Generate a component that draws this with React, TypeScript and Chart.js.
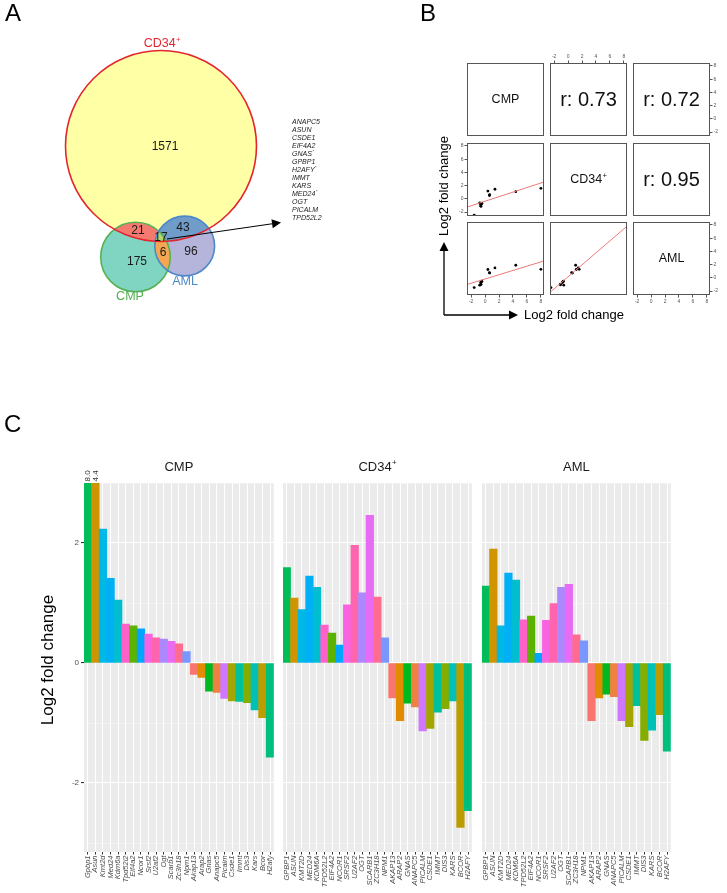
import React, { useEffect, useRef } from 'react';
import { Chart, registerables } from 'chart.js';

Chart.register(...registerables);

const FONT = '"Liberation Sans", Arial, Helvetica, sans-serif';

/* ---------------- Panel C data ---------------- */
const GENES_HUMAN = ['GPBP1', 'ASUN', 'KMT2D', 'MED24', 'KDM6A', 'TPD52L2', 'EIF4A2', 'NCOR1', 'SRSF2', 'U2AF2', 'OGT', 'SCARB1', 'ZC3H18', 'NPM1', 'AKAP13', 'ARAP2', 'GNAS', 'ANAPC5', 'PICALM', 'CSDE1', 'IMMT', 'DIS3', 'KARS', 'BCOR', 'H2AFY'];
const GENES_MOUSE = ['Gpbp1', 'Asun', 'Kmt2d', 'Med24', 'Kdm6a', 'Tpd52l2', 'Eif4a2', 'Ncor1', 'Srsf2', 'U2af2', 'Ogt', 'Scarb1', 'Zc3h18', 'Npm1', 'Akap13', 'Arap2', 'Gnas', 'Anapc5', 'Picalm', 'Csde1', 'Immt', 'Dis3', 'Kars', 'Bcor', 'H2afy'];
const CMP_LFC = [8.0, 4.4, 2.23, 1.41, 1.05, 0.65, 0.62, 0.57, 0.48, 0.42, 0.40, 0.36, 0.32, 0.19, -0.19, -0.24, -0.47, -0.49, -0.59, -0.63, -0.64, -0.66, -0.78, -0.91, -1.57];
const CD34_LFC = [1.59, 1.08, 0.89, 1.45, 1.26, 0.63, 0.50, 0.30, 0.97, 1.96, 1.17, 2.46, 1.10, 0.42, -0.58, -0.96, -0.67, -0.73, -1.13, -1.09, -0.82, -0.76, -0.63, -2.74, -2.46];
const AML_LFC = [1.28, 1.90, 0.62, 1.50, 1.38, 0.72, 0.78, 0.16, 0.71, 0.99, 1.26, 1.31, 0.47, 0.37, -0.96, -0.58, -0.52, -0.56, -0.96, -1.06, -0.71, -1.29, -1.12, -0.86, -1.47];
const FACET_NAMES = ['CMP', 'CD34+', 'AML'];
const LFC_TICKS = [-2, 0, 2];
const LFC_GRID = [-3, -2, -1, 0, 1, 2, 3];
const LFC_MIN = -3.15;
const LFC_MAX = 3.0;
const LFC_TITLE = 'Log2 fold change';

/* ---------------- Panel A data ---------------- */
const VENN_SETS = ['CD34+', 'CMP', 'AML'];
const ONLY_CD34 = 1571;
const ONLY_CMP = 175;
const ONLY_AML = 96;
const CD34_CMP = 21;
const CD34_AML = 43;
const CMP_AML = 6;
const ALL_THREE = 17;
const OVERLAP_GENES = ['ANAPC5', 'ASUN', 'CSDE1', 'EIF4A2', 'GNAS*', 'GPBP1', 'H2AFY*', 'IMMT', 'KARS', 'MED24*', 'OGT', 'PICALM', 'TPD52L2'];

/* ---------------- Panel B data ---------------- */
const PAIR_NAMES = ['CMP', 'CD34+', 'AML'];
const PAIR_R = ['0.73', '0.72', '0.95']; // (CMP,CD34) (CMP,AML) (CD34,AML)
const B_CMP = [-0.49, 4.4, -0.63, 0.62, -0.47, 8.0, -1.57, -0.64, -0.78, 1.41, 0.40, -0.59, 0.65];
const B_CD34 = [-0.73, 1.08, -1.09, 0.50, -0.67, 1.59, -2.46, -0.82, -0.63, 1.45, 1.17, -1.13, 0.63];
const B_AML = [-0.56, 1.90, -1.06, 0.78, -0.52, 1.28, -1.47, -0.71, -1.12, 1.50, 1.26, -0.96, 0.72];
const B_TICKS = [-2, 0, 2, 4, 6, 8];
const B_MIN = -2.6;
const B_MAX = 8.45;

/* ---------------- helpers ---------------- */
function hcl(h: number, c = 100, l = 65): string {
  const hr = (h * Math.PI) / 180;
  const U = c * Math.cos(hr);
  const V = c * Math.sin(hr);
  const Y = l > 8 ? Math.pow((l + 16) / 116, 3) : l / 903.3;
  const Xn = 0.95047, Yn = 1.0, Zn = 1.08883;
  const d = Xn + 15 * Yn + 3 * Zn;
  const un = (4 * Xn) / d, vn = (9 * Yn) / d;
  const u = U / (13 * l) + un;
  const v = V / (13 * l) + vn;
  const X = (Y * 9 * u) / (4 * v);
  const Z = (Y * (12 - 3 * u - 20 * v)) / (4 * v);
  const lin = [
    3.240479 * X - 1.53715 * Y - 0.498535 * Z,
    -0.969256 * X + 1.875992 * Y + 0.041556 * Z,
    0.055648 * X - 0.204043 * Y + 1.057311 * Z,
  ];
  const out = lin.map((t) => {
    const g = t <= 0.0031308 ? 12.92 * t : 1.055 * Math.pow(t, 1 / 2.4) - 0.055;
    return Math.round(Math.max(0, Math.min(1, g)) * 255);
  });
  return `rgb(${out[0]},${out[1]},${out[2]})`;
}

const GENE_LEVELS = [...GENES_HUMAN].sort();
function geneColor(label: string): string {
  const i = GENE_LEVELS.indexOf(label.toUpperCase());
  return hcl(15 + (360 * i) / GENE_LEVELS.length);
}

function drawSupText(ctx: any, text: string, cx: number, cy: number, size: number, color: string, align = 'center', style = '') {
  let base = text, sup = '';
  if (text.endsWith('+') || text.endsWith('*')) {
    base = text.slice(0, -1);
    sup = text.slice(-1);
  }
  ctx.save();
  ctx.fillStyle = color;
  ctx.textBaseline = 'middle';
  ctx.textAlign = 'left';
  ctx.font = `${style}${size}px ${FONT}`;
  const wb = ctx.measureText(base).width;
  const ss = size * 0.62;
  ctx.font = `${style}${ss}px ${FONT}`;
  const ws = sup ? ctx.measureText(sup).width : 0;
  const x0 = align === 'center' ? cx - (wb + ws) / 2 : cx;
  ctx.font = `${style}${size}px ${FONT}`;
  ctx.fillText(base, x0, cy);
  if (sup) {
    ctx.font = `${style}${ss}px ${FONT}`;
    ctx.fillText(sup, x0 + wb + 0.3, cy - size * 0.33);
  }
  ctx.restore();
}

function drawArrow(ctx: any, x1: number, y1: number, x2: number, y2: number, head: number, half: number) {
  const a = Math.atan2(y2 - y1, x2 - x1);
  const bx = x2 - head * Math.cos(a);
  const by = y2 - head * Math.sin(a);
  ctx.beginPath();
  ctx.moveTo(x1, y1);
  ctx.lineTo(bx, by);
  ctx.stroke();
  ctx.beginPath();
  ctx.moveTo(x2, y2);
  ctx.lineTo(bx + half * Math.sin(a), by - half * Math.cos(a));
  ctx.lineTo(bx - half * Math.sin(a), by + half * Math.cos(a));
  ctx.closePath();
  ctx.fill();
}

function linFit(xs: number[], ys: number[]) {
  const n = xs.length;
  const mx = xs.reduce((s, v) => s + v, 0) / n;
  const my = ys.reduce((s, v) => s + v, 0) / n;
  let sxy = 0, sxx = 0;
  for (let i = 0; i < n; i++) {
    sxy += (xs[i] - mx) * (ys[i] - my);
    sxx += (xs[i] - mx) * (xs[i] - mx);
  }
  const b = sxy / sxx;
  return { a: my - b * mx, b };
}

/* ---------------- generic canvas ---------------- */
function ChartBox({ left, top, width, height, make }: any) {
  const ref = useRef<HTMLCanvasElement>(null);
  useEffect(() => {
    const chart = new Chart(ref.current as HTMLCanvasElement, make());
    return () => chart.destroy();
  }, []);
  return (
    <canvas
      ref={ref}
      width={width}
      height={height}
      style={{ position: 'absolute', left, top, width, height }}
    />
  );
}

/* ---------------- Panel C ---------------- */
const C_TOP = 400;
const C_HEIGHT = 493;
const C_AREA_TOP = 483;
const C_XAXIS_H = 41;
const FACET_BOXES = [
  { left: 0, width: 280, axis: 84 },
  { left: 283, width: 195, axis: 0 },
  { left: 482, width: 195, axis: 0 },
];

function facetConfig(idx: number) {
  const labels = idx === 0 ? GENES_MOUSE : GENES_HUMAN;
  const values = [CMP_LFC, CD34_LFC, AML_LFC][idx];
  const withAxis = idx === 0;
  const box = FACET_BOXES[idx];

  const bgPlugin = {
    id: 'panelBg',
    beforeDraw(chart: any) {
      const { ctx, chartArea: a } = chart;
      ctx.save();
      ctx.fillStyle = '#EBEBEB';
      ctx.fillRect(a.left, a.top, a.right - a.left, a.bottom - a.top);
      ctx.restore();
    },
  };
  const textPlugin = {
    id: 'facetText',
    afterDraw(chart: any) {
      const { ctx, chartArea: a } = chart;
      drawSupText(ctx, FACET_NAMES[idx], (a.left + a.right) / 2, 67, 13, '#1A1A1A');
      const meta = chart.getDatasetMeta(0);
      ctx.save();
      ctx.fillStyle = '#333333';
      ctx.font = `8px ${FONT}`;
      ctx.textBaseline = 'middle';
      ctx.textAlign = 'left';
      values.forEach((v: number, i: number) => {
        if (v > LFC_MAX) {
          const el = meta.data[i];
          ctx.save();
          ctx.translate(el.x, a.top - 1.5);
          ctx.rotate(-Math.PI / 2);
          ctx.fillText(v.toFixed(1), 0, 0);
          ctx.restore();
        }
      });
      ctx.restore();
      if (withAxis) {
        ctx.save();
        ctx.fillStyle = '#000000';
        ctx.font = `17px ${FONT}`;
        ctx.textAlign = 'center';
        ctx.textBaseline = 'middle';
        ctx.translate(48, 660 - C_TOP);
        ctx.rotate(-Math.PI / 2);
        ctx.fillText(LFC_TITLE, 0, 0);
        ctx.restore();
        ctx.save();
        ctx.fillStyle = '#000000';
        ctx.font = `24px ${FONT}`;
        ctx.textBaseline = 'alphabetic';
        ctx.fillText('C', 4, 432 - C_TOP);
        ctx.restore();
      }
    },
  };

  return {
    type: 'bar',
    data: {
      labels,
      datasets: [
        {
          data: values,
          backgroundColor: labels.map(geneColor),
          borderWidth: 0,
          barPercentage: 1,
          categoryPercentage: 1,
        },
      ],
    },
    options: {
      responsive: false,
      animation: false,
      events: [],
      layout: { padding: { top: C_AREA_TOP - C_TOP, left: 0, right: 0, bottom: 0 } },
      plugins: { legend: { display: false }, tooltip: { enabled: false }, title: { display: false } },
      scales: {
        x: {
          type: 'category',
          offset: true,
          grid: { offset: false, color: '#FFFFFF', lineWidth: 1, drawTicks: true, tickLength: 2.5, tickColor: '#333333' },
          border: { display: false },
          ticks: {
            autoSkip: false,
            minRotation: 90,
            maxRotation: 90,
            padding: 1,
            color: '#4D4D4D',
            font: { family: FONT, size: 7.5, style: 'italic' },
          },
          afterFit: (s: any) => {
            s.height = C_XAXIS_H;
          },
        },
        y: {
          min: LFC_MIN,
          max: LFC_MAX,
          afterBuildTicks: (s: any) => {
            s.ticks = LFC_GRID.map((v) => ({ value: v }));
          },
          ticks: {
            display: withAxis,
            padding: 2,
            color: '#4D4D4D',
            font: { family: FONT, size: 8 },
            callback: (v: any) => (LFC_TICKS.includes(Number(v)) ? String(v) : ''),
          },
          grid: {
            color: (ctx: any) => (ctx.tick && LFC_TICKS.includes(ctx.tick.value) ? '#FFFFFF' : '#F7F7F7'),
            lineWidth: (ctx: any) => (ctx.tick && LFC_TICKS.includes(ctx.tick.value) ? 1.1 : 0.6),
            drawTicks: withAxis,
            tickLength: 3,
            tickColor: (ctx: any) => (ctx.tick && LFC_TICKS.includes(ctx.tick.value) ? '#333333' : 'rgba(0,0,0,0)'),
          },
          border: { display: false },
          afterFit: (s: any) => {
            s.width = box.axis;
          },
        },
      },
    },
    plugins: [bgPlugin, textPlugin],
  };
}

/* ---------------- Panel A (Venn) ---------------- */
const VENN_W = 370;
const VENN_H = 310;
const VENN_R_MAX = 95.5;
const VENN_CENTERS = [
  { x: 161, y: 146 },
  { x: 135.5, y: 257 },
  { x: 184.7, y: 246 },
];
const VENN_NUM_POS = [
  { x: 165, y: 147 },
  { x: 137, y: 262 },
  { x: 191, y: 252 },
  { x: 138, y: 231 },
  { x: 183, y: 228 },
  { x: 163, y: 253 },
  { x: 161, y: 238 },
];
const VENN_NAME_POS = [
  { x: 162, y: 44 },
  { x: 130, y: 297 },
  { x: 185, y: 282 },
];

function vennConfig() {
  const totals = [
    ONLY_CD34 + CD34_CMP + CD34_AML + ALL_THREE,
    ONLY_CMP + CD34_CMP + CMP_AML + ALL_THREE,
    ONLY_AML + CD34_AML + CMP_AML + ALL_THREE,
  ];
  const maxT = Math.max(...totals);
  const radii = totals.map((t) => VENN_R_MAX * Math.sqrt(t / maxT));
  const counts = [ONLY_CD34, ONLY_CMP, ONLY_AML, CD34_CMP, CD34_AML, CMP_AML, ALL_THREE];
  const strokeCols = ['#E3262E', '#55B254', '#4E88C8'];
  const nameCols = ['#E3262E', '#4FAE4F', '#4E88C8'];

  const plugin = {
    id: 'venn',
    afterDraw(chart: any) {
      const { ctx } = chart;
      const sx = (v: number) => chart.scales.x.getPixelForValue(v);
      const sy = (v: number) => chart.scales.y.getPixelForValue(v);
      const k = sx(1) - sx(0);
      const circ = (i: number) => {
        ctx.beginPath();
        ctx.arc(sx(VENN_CENTERS[i].x), sy(VENN_CENTERS[i].y), radii[i] * k, 0, Math.PI * 2);
      };
      ctx.save();
      ctx.fillStyle = '#FFFFA6';
      circ(0); ctx.fill();
      ctx.fillStyle = '#80D4C2';
      circ(1); ctx.fill();
      ctx.fillStyle = '#B5B4DB';
      circ(2); ctx.fill();
      ctx.save();
      circ(0); ctx.clip();
      ctx.fillStyle = '#F47A70';
      circ(1); ctx.fill();
      ctx.fillStyle = '#6F9CC8';
      circ(2); ctx.fill();
      ctx.restore();
      ctx.save();
      circ(1); ctx.clip();
      ctx.fillStyle = '#F4A650';
      circ(2); ctx.fill();
      ctx.restore();
      ctx.save();
      circ(0); ctx.clip();
      circ(1); ctx.clip();
      ctx.fillStyle = '#B6D66C';
      circ(2); ctx.fill();
      ctx.restore();
      ctx.lineWidth = 1.6;
      [1, 2, 0].forEach((i) => {
        ctx.strokeStyle = strokeCols[i];
        circ(i); ctx.stroke();
      });
      ctx.restore();

      ctx.save();
      ctx.fillStyle = '#1A1A1A';
      ctx.font = `12px ${FONT}`;
      ctx.textAlign = 'center';
      ctx.textBaseline = 'middle';
      counts.forEach((c, i) => ctx.fillText(String(c), sx(VENN_NUM_POS[i].x), sy(VENN_NUM_POS[i].y)));
      ctx.restore();
      VENN_SETS.forEach((n, i) => drawSupText(ctx, n, sx(VENN_NAME_POS[i].x), sy(VENN_NAME_POS[i].y), 12.5, nameCols[i]));

      ctx.save();
      ctx.strokeStyle = '#000000';
      ctx.fillStyle = '#000000';
      ctx.lineWidth = 1;
      drawArrow(ctx, sx(167), sy(239), sx(281), sy(222.5), 9, 4.5);
      ctx.restore();

      OVERLAP_GENES.forEach((g, i) => {
        drawSupText(ctx, g, sx(292), sy(122.5 + i * 8), 7, '#222222', 'left', 'italic ');
      });

      ctx.save();
      ctx.fillStyle = '#000000';
      ctx.font = `24px ${FONT}`;
      ctx.textBaseline = 'alphabetic';
      ctx.fillText('A', 5, 21);
      ctx.restore();
    },
  };

  return {
    type: 'scatter',
    data: { datasets: [] },
    options: {
      responsive: false,
      animation: false,
      events: [],
      layout: { padding: 0 },
      plugins: { legend: { display: false }, tooltip: { enabled: false } },
      scales: {
        x: { display: false, min: 0, max: VENN_W },
        y: { display: false, min: 0, max: VENN_H, reverse: true },
      },
    },
    plugins: [plugin],
  };
}

/* ---------------- Panel B ---------------- */
const B_LEFT = 370;
const COL_LEFT = [467, 550, 633];
const ROW_TOP = [63, 143, 222];
const CELL_W = 77;
const CELL_H = 73;
const CELL_M = 10;

function bOverlayConfig() {
  const plugin = {
    id: 'bOverlay',
    afterDraw(chart: any) {
      const { ctx } = chart;
      ctx.save();
      ctx.fillStyle = '#000000';
      ctx.strokeStyle = '#000000';
      ctx.font = `24px ${FONT}`;
      ctx.textBaseline = 'alphabetic';
      ctx.fillText('B', 420 - B_LEFT, 21);
      ctx.lineWidth = 1.3;
      drawArrow(ctx, 444 - B_LEFT, 315, 444 - B_LEFT, 242, 9, 4.5);
      drawArrow(ctx, 444 - B_LEFT, 315, 518 - B_LEFT, 315, 9, 4.5);
      ctx.font = `13px ${FONT}`;
      ctx.textAlign = 'center';
      ctx.textBaseline = 'middle';
      ctx.fillText(LFC_TITLE, 574 - B_LEFT, 315);
      ctx.translate(444 - B_LEFT, 186);
      ctx.rotate(-Math.PI / 2);
      ctx.fillText(LFC_TITLE, 0, 0);
      ctx.restore();
    },
  };
  return {
    type: 'scatter',
    data: { datasets: [] },
    options: {
      responsive: false,
      animation: false,
      events: [],
      plugins: { legend: { display: false }, tooltip: { enabled: false } },
      scales: { x: { display: false }, y: { display: false } },
    },
    plugins: [plugin],
  };
}

function cellConfig(row: number, col: number) {
  const vars = [B_CMP, B_CD34, B_AML];
  const hasTop = row === 0 && col === 1;
  const hasBottom = row === 2 && (col === 0 || col === 2);
  const hasLeft = row === 1 && col === 0;
  const hasRight = col === 2 && (row === 0 || row === 2);
  const datasets: any[] = [];
  if (row > col) {
    const xs = vars[col];
    const ys = vars[row];
    const { a, b } = linFit(xs, ys);
    datasets.push({
      type: 'line',
      data: [
        { x: B_MIN, y: a + b * B_MIN },
        { x: B_MAX, y: a + b * B_MAX },
      ],
      borderColor: '#EC7A78',
      borderWidth: 1,
      pointRadius: 0,
      fill: false,
    });
    datasets.push({
      type: 'scatter',
      data: xs.map((x, i) => ({ x, y: ys[i] })),
      backgroundColor: '#000000',
      borderWidth: 0,
      pointRadius: 1.4,
    });
  }
  let rText = '';
  if (row < col) {
    const idx = row === 0 ? col - 1 : 2;
    rText = 'r: ' + PAIR_R[idx];
  }
  const axisTick = (side: boolean, horizontal: boolean) => ({
    display: side,
    position: horizontal ? (hasTop ? 'top' : 'bottom') : hasLeft ? 'left' : 'right',
    min: B_MIN,
    max: B_MAX,
    afterBuildTicks: (s: any) => {
      s.ticks = B_TICKS.map((v) => ({ value: v }));
    },
    grid: { drawOnChartArea: false, drawTicks: true, tickLength: 2.5, color: '#555555', tickColor: '#555555' },
    border: { display: false },
    ticks: { padding: 1, color: '#555555', font: { family: FONT, size: 5 }, maxRotation: 0, minRotation: 0 },
    afterFit: (s: any) => {
      if (!side) {
        if (horizontal) s.height = 0;
        else s.width = 0;
        return;
      }
      if (horizontal) s.height = CELL_M;
      else s.width = CELL_M;
    },
  });
  const plugin = {
    id: 'cellBox',
    afterDraw(chart: any) {
      const { ctx, chartArea: a } = chart;
      ctx.save();
      ctx.strokeStyle = '#555555';
      ctx.lineWidth = 1;
      ctx.strokeRect(Math.round(a.left) + 0.5, Math.round(a.top) + 0.5, Math.round(a.right - a.left) - 1, Math.round(a.bottom - a.top) - 1);
      ctx.restore();
      const cx = (a.left + a.right) / 2;
      const cy = (a.top + a.bottom) / 2;
      if (row === col) {
        drawSupText(ctx, PAIR_NAMES[row], cx, cy, 12.5, '#111111');
      } else if (rText) {
        drawSupText(ctx, rText, cx, cy + 1, 20, '#111111');
      }
    },
  };
  return {
    type: 'scatter',
    data: { datasets },
    options: {
      responsive: false,
      animation: false,
      events: [],
      layout: {
        padding: {
          top: hasTop ? 0 : CELL_M,
          bottom: hasBottom ? 0 : CELL_M,
          left: hasLeft ? 0 : CELL_M,
          right: hasRight ? 0 : CELL_M,
        },
      },
      plugins: { legend: { display: false }, tooltip: { enabled: false } },
      scales: {
        x: { type: 'linear', ...axisTick(hasTop || hasBottom, true) },
        y: { type: 'linear', ...axisTick(hasLeft || hasRight, false) },
      },
    },
    plugins: [plugin],
  };
}

export default function App() {
  const cells: any[] = [];
  for (let r = 0; r < 3; r++) {
    for (let c = 0; c < 3; c++) {
      cells.push(
        <ChartBox
          key={`cell-${r}-${c}`}
          left={COL_LEFT[c] - CELL_M}
          top={ROW_TOP[r] - CELL_M}
          width={CELL_W + 2 * CELL_M}
          height={CELL_H + 2 * CELL_M}
          make={() => cellConfig(r, c)}
        />
      );
    }
  }
  return (
    <div style={{ position: 'absolute', left: 0, top: 0, width: 727, height: 893, overflow: 'hidden', background: '#FFFFFF' }}>
      <ChartBox left={0} top={0} width={VENN_W} height={VENN_H} make={vennConfig} />
      <ChartBox left={B_LEFT} top={0} width={727 - B_LEFT} height={330} make={bOverlayConfig} />
      {cells}
      {FACET_BOXES.map((b, i) => (
        <ChartBox key={`facet-${i}`} left={b.left} top={C_TOP} width={b.width} height={C_HEIGHT} make={() => facetConfig(i)} />
      ))}
    </div>
  );
}
